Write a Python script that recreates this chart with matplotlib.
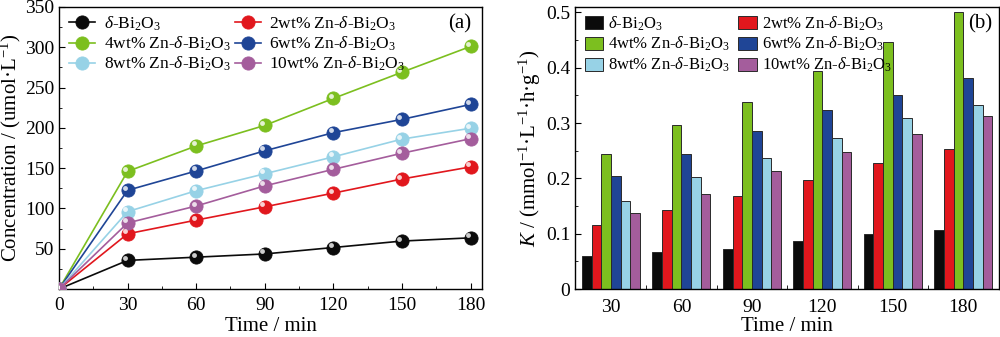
import numpy as np
import matplotlib
matplotlib.use('Agg')
import matplotlib.pyplot as plt
import matplotlib.transforms as mtransforms
from matplotlib.ticker import MultipleLocator, FixedLocator

plt.rcParams['font.family'] = 'Liberation Serif'
plt.rcParams['mathtext.fontset'] = 'custom'
plt.rcParams['mathtext.rm'] = 'Liberation Serif'
plt.rcParams['mathtext.it'] = 'Liberation Serif:italic'
plt.rcParams['mathtext.bf'] = 'Liberation Serif:bold'

time = [0, 30, 60, 90, 120, 150, 180]
labels = [r'$\delta$-Bi$_2$O$_3$',
          r'2wt% Zn-$\delta$-Bi$_2$O$_3$',
          r'4wt% Zn-$\delta$-Bi$_2$O$_3$',
          r'6wt% Zn-$\delta$-Bi$_2$O$_3$',
          r'8wt% Zn-$\delta$-Bi$_2$O$_3$',
          r'10wt% Zn-$\delta$-Bi$_2$O$_3$']
colors = ['#0b0b0b', '#e1171d', '#7cbf1f', '#1f4596', '#97d2e6', '#a45d9c']

# concentration (umol/L) vs time
conc_bi2o3 = [0, 35.5, 39.5, 43.5, 51.5, 59.5, 63.5]
conc_2wt = [0, 68.5, 85.5, 102, 119, 136.5, 151.5]
conc_4wt = [0, 146, 177.5, 203, 236.5, 269, 301]
conc_6wt = [0, 122.5, 146.5, 171.5, 194, 210.5, 229]
conc_8wt = [0, 96, 122, 143, 164, 186, 199.5]
conc_10wt = [0, 82, 103, 128, 148.5, 168.5, 186.5]
conc = [conc_bi2o3, conc_2wt, conc_4wt, conc_6wt, conc_8wt, conc_10wt]

# rate constant K vs time
bar_times = ['30', '60', '90', '120', '150', '180']
k_bi2o3 = [0.060, 0.067, 0.073, 0.087, 0.099, 0.107]
k_2wt = [0.115, 0.142, 0.169, 0.198, 0.227, 0.253]
k_4wt = [0.244, 0.296, 0.339, 0.394, 0.446, 0.501]
k_6wt = [0.205, 0.244, 0.285, 0.323, 0.350, 0.382]
k_8wt = [0.160, 0.203, 0.237, 0.273, 0.309, 0.332]
k_10wt = [0.137, 0.172, 0.213, 0.248, 0.281, 0.312]
kvals = [k_bi2o3, k_2wt, k_4wt, k_6wt, k_8wt, k_10wt]

fig = plt.figure(figsize=(10, 3.37), dpi=100)
ax1 = fig.add_axes([0.059, 0.1424, 0.423, 0.837])
ax2 = fig.add_axes([0.575, 0.1424, 0.4235, 0.837])

# glossy highlight shifted up-left of each marker
shift = mtransforms.ScaledTranslation(-1.8 / 72, 1.8 / 72, fig.dpi_scale_trans)
handles = []
for c, y, lab in zip(colors, conc, labels):
    h, = ax1.plot(time, y, '-o', color=c, lw=1.2, ms=9.5, mfc=c,
                  mec=c, mew=0.6, label=lab, zorder=3)
    ax1.plot(time, y, 'o', ls='none', ms=3.5, mfc='white', mec='none',
             alpha=0.8, transform=ax1.transData + shift, zorder=4)
    handles.append(h)

ax1.set_xlim(0, 185)
ax1.set_ylim(0, 350)
ax1.xaxis.set_major_locator(MultipleLocator(30))
ax1.xaxis.set_minor_locator(MultipleLocator(15))
ax1.yaxis.set_major_locator(FixedLocator([50, 100, 150, 200, 250, 300, 350]))
ax1.yaxis.set_minor_locator(MultipleLocator(25))
ax1.tick_params(which='both', direction='in', labelsize=14)
ax1.tick_params(which='major', length=4)
ax1.tick_params(which='minor', length=2.5)
ax1.tick_params(axis='x', pad=6)
ax1.set_xlabel('Time / min', fontsize=15, labelpad=2)
ax1.set_ylabel('Concentration / (umol·L$^{-1}$)', fontsize=15, labelpad=1)
order = [0, 2, 4, 1, 3, 5]
ax1.legend([handles[i] for i in order], [labels[i] for i in order], ncol=2,
           loc='upper left', frameon=False, fontsize=12.5, handlelength=1.5,
           handletextpad=0.5, columnspacing=0.2, labelspacing=0.1,
           borderaxespad=0.2, bbox_to_anchor=(0.0, 1.01))
ax1.text(0.975, 0.975, '(a)', transform=ax1.transAxes, ha='right', va='top',
         fontsize=15)

x = np.arange(len(bar_times))
width = 0.137
bars = []
for i, (c, k, lab) in enumerate(zip(colors, kvals, labels)):
    b = ax2.bar(x + (i - 2.5) * width, k, width, color=c, edgecolor='#2a2a2a',
                linewidth=0.7, label=lab)
    bars.append(b)

ax2.set_xlim(-0.51, 5.5)
ax2.set_ylim(0, 0.51)
ax2.set_xticks(x)
ax2.set_xticklabels(bar_times)
ax2.xaxis.set_minor_locator(FixedLocator(x[:-1] + 0.5))
ax2.yaxis.set_major_locator(MultipleLocator(0.1))
ax2.yaxis.set_minor_locator(MultipleLocator(0.05))
ax2.yaxis.set_major_formatter(lambda v, pos: '0' if abs(v) < 1e-9 else '%.1f' % v)
ax2.tick_params(which='both', direction='in', labelsize=14)
ax2.tick_params(axis='y', which='major', length=4)
ax2.tick_params(axis='y', which='minor', length=2.5)
ax2.tick_params(axis='x', which='major', length=0, pad=7)
ax2.tick_params(axis='x', which='minor', length=3)
ax2.set_xlabel('Time / min', fontsize=15, labelpad=1)
ax2.set_ylabel('$K$ / (mmol$^{-1}$·L$^{-1}$·h·g$^{-1}$)',
               fontsize=15, labelpad=2)
ax2.legend([bars[i] for i in order], [labels[i] for i in order], ncol=2,
           loc='upper left', frameon=False, fontsize=12, handlelength=1.1,
           handleheight=0.8, handletextpad=0.3, columnspacing=0.5,
           labelspacing=0.15, borderaxespad=0.2, bbox_to_anchor=(0.0, 1.01))
ax2.text(0.985, 0.975, '(b)', transform=ax2.transAxes, ha='right', va='top',
         fontsize=15)

for ax in (ax1, ax2):
    for s in ax.spines.values():
        s.set_linewidth(1.0)

fig.savefig('out.png', dpi=100)
